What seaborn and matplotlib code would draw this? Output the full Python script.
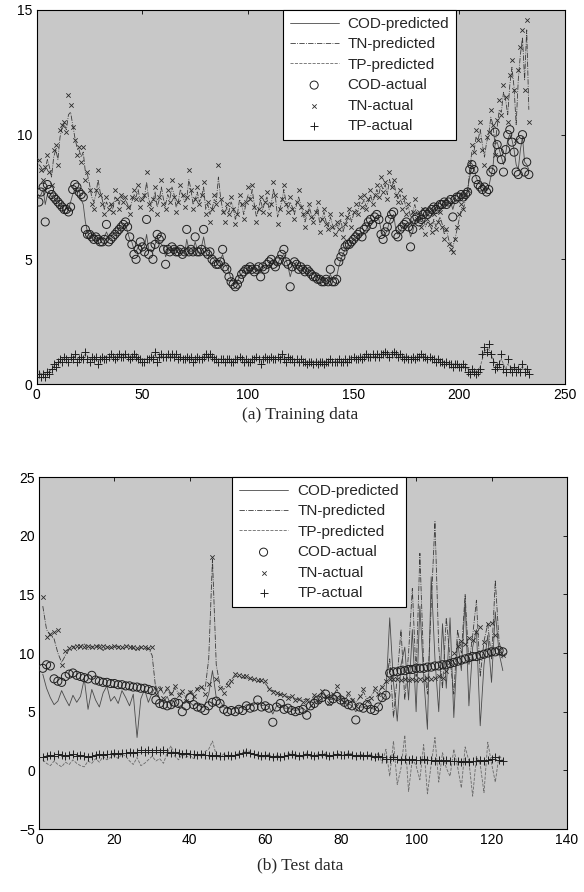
import numpy as np
import pandas as pd
import matplotlib
matplotlib.use("Agg")
import matplotlib.pyplot as plt
import seaborn as sns

# ---------------- Training data (a) ----------------
train_cod_actual = [
    7.3, 7.7, 7.9, 6.5, 8.0, 7.8, 7.6, 7.5, 7.4, 7.3,
    7.2, 7.1, 7.0, 7.0, 6.9, 7.1, 7.8, 8.0, 7.9, 7.7,
    7.6, 7.5, 6.2, 6.0, 6.0, 5.9, 5.8, 5.9, 5.8, 5.7,
    5.7, 5.8, 6.4, 5.7, 5.8, 5.9, 6.0, 6.1, 6.2, 6.3,
    6.4, 6.5, 6.3, 5.9, 5.6, 5.2, 5.0, 5.4, 5.7, 5.5,
    5.3, 6.6, 5.2, 5.5, 5.0, 5.6, 6.0, 5.8, 5.9, 5.4,
    4.8, 5.4, 5.3, 5.5, 5.4, 5.3, 5.3, 5.4, 5.2, 5.3,
    6.2, 5.3, 5.4, 5.3, 5.9, 5.3, 5.3, 5.4, 6.2, 5.3,
    5.2, 5.3, 5.0, 4.9, 4.8, 4.8, 4.9, 5.4, 4.7, 4.6,
    4.3, 4.1, 4.0, 3.9, 4.0, 4.2, 4.4, 4.5, 4.6, 4.6,
    4.7, 4.6, 4.5, 4.6, 4.7, 4.3, 4.7, 4.6, 4.8, 4.9,
    5.0, 4.8, 4.7, 4.9, 5.0, 5.2, 5.4, 4.9, 4.8, 3.9,
    4.7, 4.9, 4.8, 4.6, 4.7, 4.6, 4.5, 4.6, 4.5, 4.4,
    4.3, 4.3, 4.2, 4.2, 4.1, 4.1, 4.2, 4.1, 4.6, 4.1,
    4.1, 4.2, 4.9, 5.1, 5.3, 5.5, 5.6, 5.6, 5.7, 5.8,
    5.9, 6.0, 6.1, 5.9, 6.2, 6.3, 6.5, 6.6, 6.4, 6.7,
    6.8, 6.6, 6.0, 5.8, 6.1, 6.3, 6.6, 6.8, 6.9, 6.0,
    5.9, 6.2, 6.3, 6.4, 6.5, 6.3, 5.5, 6.2, 6.6, 6.7,
    6.5, 6.6, 6.8, 6.9, 6.8, 6.9, 7.0, 7.1, 7.0, 7.1,
    7.2, 7.2, 7.3, 7.2, 7.3, 7.4, 6.7, 7.4, 7.5, 7.5,
    7.6, 7.5, 7.6, 7.7, 8.6, 8.8, 8.6, 8.2, 8.0, 7.9,
    7.8, 7.9, 7.7, 7.8, 8.5, 8.6, 10.1, 9.6, 9.3, 9.0,
    8.5, 9.4, 10.0, 10.2, 9.7, 9.3, 8.5, 8.4, 9.8, 10.0,
    8.5, 8.9, 8.4]

train_cod_pred = [
    7.5, 7.6, 7.8, 7.2, 7.6, 7.7, 7.5, 7.6, 7.3, 7.4,
    7.1, 7.2, 6.9, 7.1, 7.0, 7.3, 7.6, 7.8, 7.7, 7.8,
    7.4, 7.2, 6.5, 6.1, 5.9, 6.0, 5.9, 5.8, 5.9, 5.8,
    5.8, 5.9, 6.1, 5.9, 5.9, 6.0, 6.1, 6.0, 6.3, 6.2,
    6.3, 6.4, 6.1, 5.8, 5.7, 5.4, 5.3, 5.5, 5.6, 5.4,
    5.5, 6.0, 5.4, 5.4, 5.3, 5.6, 5.8, 5.7, 5.6, 5.5,
    5.1, 5.3, 5.4, 5.4, 5.5, 5.3, 5.4, 5.3, 5.3, 5.2,
    5.8, 5.4, 5.3, 5.4, 5.7, 5.4, 5.2, 5.5, 5.9, 5.4,
    5.3, 5.2, 5.1, 5.0, 4.9, 4.9, 5.0, 5.2, 4.8, 4.7,
    4.5, 4.2, 4.1, 4.0, 4.1, 4.3, 4.4, 4.6, 4.5, 4.7,
    4.6, 4.7, 4.6, 4.5, 4.6, 4.5, 4.6, 4.7, 4.7, 4.8,
    4.9, 4.9, 4.8, 4.8, 5.0, 5.1, 5.2, 5.0, 4.7, 4.3,
    4.6, 4.8, 4.9, 4.7, 4.6, 4.7, 4.6, 4.5, 4.6, 4.5,
    4.4, 4.3, 4.3, 4.2, 4.2, 4.2, 4.1, 4.2, 4.4, 4.2,
    4.2, 4.3, 4.7, 5.0, 5.2, 5.4, 5.5, 5.7, 5.6, 5.8,
    5.8, 6.0, 6.0, 6.0, 6.1, 6.2, 6.4, 6.5, 6.5, 6.6,
    6.7, 6.6, 6.2, 6.0, 6.0, 6.2, 6.5, 6.7, 6.8, 6.2,
    6.0, 6.1, 6.3, 6.3, 6.4, 6.3, 5.9, 6.1, 6.5, 6.6,
    6.6, 6.6, 6.7, 6.8, 6.9, 6.9, 6.9, 7.0, 7.1, 7.0,
    7.1, 7.2, 7.2, 7.3, 7.2, 7.3, 7.0, 7.3, 7.4, 7.5,
    7.5, 7.6, 7.5, 7.8, 8.3, 8.7, 8.7, 8.3, 8.1, 8.0,
    7.9, 7.8, 7.8, 7.9, 8.3, 8.7, 9.6, 9.7, 9.4, 9.1,
    8.8, 9.2, 9.8, 10.0, 9.8, 9.4, 8.8, 8.6, 9.4, 9.9,
    8.9, 8.8, 8.6]

train_tn_actual = [
    9.0, 8.6, 8.2, 8.7, 9.2, 8.5, 8.0, 9.4, 9.6, 8.8,
    10.2, 10.4, 10.5, 10.1, 11.6, 11.2, 10.3, 9.8, 9.2, 9.5,
    8.9, 9.5, 8.2, 8.5, 7.8, 7.2, 7.0, 7.8, 8.6, 7.6,
    7.2, 6.8, 7.5, 7.0, 7.2, 6.9, 7.8, 7.4, 7.0, 7.6,
    7.3, 7.5, 7.1, 6.8, 7.5, 7.8, 7.4, 8.0, 7.1, 7.4,
    7.6, 8.5, 7.2, 7.0, 7.4, 7.9, 6.8, 7.5, 8.2, 7.2,
    7.0, 7.8, 7.3, 8.2, 7.5, 6.9, 7.3, 8.0, 7.6, 7.1,
    7.5, 8.6, 7.8, 7.0, 7.4, 7.9, 7.2, 7.6, 8.1, 6.8,
    7.3, 6.5, 7.0, 7.6, 7.2, 8.8, 7.4, 6.9, 6.5, 7.2,
    6.8, 7.5, 7.0, 6.4, 6.8, 7.6, 7.2, 6.6, 7.3, 7.9,
    7.4, 8.0, 7.1, 6.5, 7.0, 7.5, 6.9, 7.3, 7.7, 6.8,
    7.2, 8.1, 7.6, 6.4, 7.0, 7.4, 8.0, 7.2, 6.9, 7.5,
    7.0, 6.6, 7.3, 7.8, 7.1, 6.8, 6.3, 6.9, 7.2, 6.7,
    6.5, 6.9, 7.3, 6.1, 6.6, 7.0, 6.4, 6.2, 6.8, 6.3,
    6.0, 6.5, 6.2, 6.8, 5.9, 6.4, 6.7, 7.0, 6.3, 6.9,
    7.2, 6.8, 7.5, 7.1, 7.6, 7.0, 7.4, 7.8, 7.2, 7.6,
    8.0, 7.5, 8.3, 7.7, 8.1, 7.4, 8.5, 7.9, 8.2, 7.6,
    7.3, 7.8, 7.0, 7.5, 6.8, 7.2, 6.5, 6.9, 7.4, 6.6,
    6.9, 6.3, 7.0, 6.0, 6.6, 6.4, 6.1, 6.8, 6.2, 6.5,
    6.9, 6.3, 5.8, 6.2, 5.6, 5.4, 5.3, 5.8, 6.3, 6.8,
    7.2, 7.0, 7.6, 7.8, 8.9, 9.6, 9.3, 10.2, 9.8, 10.5,
    9.4, 8.8, 9.9, 10.1, 11.0, 10.4, 9.2, 10.6, 11.4, 10.8,
    12.0, 11.5, 10.5, 12.4, 13.0, 11.8, 9.8, 12.6, 13.5, 14.2,
    11.8, 14.6, 10.5]

train_tn_pred = [
    8.8, 8.7, 8.5, 8.6, 9.0, 8.7, 8.3, 9.1, 9.4, 9.0,
    9.9, 10.3, 10.4, 10.2, 10.8, 10.9, 10.4, 9.9, 9.5, 9.4,
    9.1, 9.3, 8.5, 8.4, 8.0, 7.5, 7.3, 7.6, 8.2, 7.7,
    7.4, 7.0, 7.3, 7.1, 7.2, 7.0, 7.5, 7.4, 7.2, 7.5,
    7.4, 7.4, 7.2, 7.0, 7.3, 7.6, 7.5, 7.8, 7.3, 7.4,
    7.5, 8.1, 7.4, 7.2, 7.3, 7.7, 7.1, 7.4, 7.9, 7.4,
    7.2, 7.6, 7.4, 7.9, 7.6, 7.1, 7.3, 7.8, 7.6, 7.3,
    7.4, 8.2, 7.8, 7.2, 7.4, 7.7, 7.3, 7.5, 7.9, 7.0,
    7.2, 6.8, 7.0, 7.4, 7.3, 8.3, 7.5, 7.0, 6.8, 7.1,
    6.9, 7.3, 7.1, 6.6, 6.8, 7.4, 7.2, 6.8, 7.2, 7.6,
    7.4, 7.8, 7.2, 6.7, 7.0, 7.4, 7.0, 7.3, 7.5, 7.0,
    7.2, 7.8, 7.5, 6.7, 7.0, 7.3, 7.8, 7.3, 7.0, 7.3,
    7.1, 6.8, 7.2, 7.5, 7.2, 6.9, 6.5, 6.8, 7.1, 6.8,
    6.6, 6.8, 7.1, 6.4, 6.6, 6.9, 6.5, 6.3, 6.7, 6.4,
    6.2, 6.4, 6.3, 6.6, 6.1, 6.4, 6.6, 6.9, 6.5, 6.8,
    7.0, 6.9, 7.3, 7.2, 7.4, 7.1, 7.3, 7.6, 7.3, 7.5,
    7.8, 7.6, 8.0, 7.8, 8.0, 7.6, 8.2, 7.9, 8.1, 7.7,
    7.4, 7.6, 7.2, 7.4, 7.0, 7.1, 6.7, 6.9, 7.2, 6.8,
    6.8, 6.5, 6.8, 6.3, 6.5, 6.4, 6.2, 6.6, 6.3, 6.5,
    6.7, 6.4, 6.0, 6.2, 5.8, 5.6, 5.5, 5.8, 6.2, 6.6,
    7.0, 7.0, 7.4, 7.7, 8.6, 9.3, 9.3, 9.9, 9.8, 10.2,
    9.6, 9.1, 9.7, 10.0, 10.7, 10.4, 9.6, 10.3, 11.0, 10.9,
    11.7, 11.4, 10.8, 12.0, 12.7, 11.9, 10.4, 12.2, 13.2, 13.9,
    12.2, 14.2, 11.0]

train_tp_actual = [
    0.4, 0.3, 0.4, 0.3, 0.5, 0.4, 0.6, 0.8, 0.7, 0.9,
    1.0, 0.9, 1.1, 1.0, 0.9, 1.1, 1.0, 1.2, 0.9, 1.0,
    1.1, 1.0, 1.3, 1.0, 0.9, 1.1, 1.0, 1.1, 0.8, 1.0,
    1.1, 1.0, 1.0, 1.1, 1.2, 1.1, 1.0, 1.1, 1.2, 1.1,
    1.1, 1.2, 1.1, 1.0, 1.1, 1.2, 1.1, 1.0, 1.0, 0.9,
    0.9, 1.0, 1.0, 1.1, 1.0, 1.3, 0.9, 1.1, 1.2, 1.1,
    1.1, 1.2, 1.1, 1.2, 1.1, 1.2, 1.0, 1.1, 1.0, 1.0,
    1.1, 1.0, 1.1, 0.9, 1.0, 1.1, 1.0, 1.0, 1.1, 1.2,
    1.1, 1.2, 1.1, 1.0, 1.0, 0.9, 1.0, 1.0, 0.9, 1.0,
    1.0, 0.9, 0.9, 1.0, 1.0, 1.1, 1.0, 0.9, 1.0, 0.9,
    0.9, 1.0, 1.0, 1.1, 1.0, 0.8, 1.0, 1.1, 1.0, 1.0,
    1.1, 1.0, 1.0, 1.1, 1.0, 1.2, 1.0, 0.9, 1.1, 1.0,
    1.0, 0.9, 1.0, 0.9, 1.0, 0.9, 0.9, 0.8, 0.9, 0.9,
    0.8, 0.9, 0.8, 0.9, 0.9, 0.8, 0.9, 0.9, 1.0, 0.9,
    0.9, 0.9, 1.0, 0.9, 0.9, 1.0, 0.9, 1.0, 1.0, 1.1,
    1.0, 1.0, 1.1, 1.0, 1.1, 1.2, 1.1, 1.1, 1.2, 1.1,
    1.2, 1.1, 1.2, 1.2, 1.3, 1.2, 1.1, 1.2, 1.3, 1.2,
    1.1, 1.2, 1.1, 1.0, 1.1, 1.0, 1.0, 1.1, 1.0, 1.1,
    1.1, 1.2, 1.1, 1.1, 1.0, 1.1, 1.0, 1.0, 0.9, 1.0,
    0.9, 0.9, 0.8, 0.9, 0.8, 0.8, 0.7, 0.8, 0.8, 0.7,
    0.7, 0.8, 0.7, 0.5, 0.4, 0.6, 0.5, 0.4, 0.5, 0.6,
    1.2, 1.5, 1.3, 1.6, 1.2, 0.9, 0.6, 0.7, 0.8, 1.2,
    0.6, 0.5, 1.0, 0.6, 0.5, 0.7, 0.5, 0.6, 0.5, 0.8,
    0.5, 0.6, 0.4]

train_tp_pred = [
    0.5, 0.4, 0.4, 0.4, 0.5, 0.5, 0.6, 0.7, 0.8, 0.9,
    0.9, 1.0, 1.0, 1.0, 1.0, 1.0, 1.1, 1.1, 1.0, 1.0,
    1.0, 1.1, 1.2, 1.1, 1.0, 1.0, 1.0, 1.0, 0.9, 1.0,
    1.0, 1.1, 1.1, 1.1, 1.1, 1.1, 1.1, 1.1, 1.1, 1.1,
    1.2, 1.1, 1.1, 1.1, 1.1, 1.1, 1.1, 1.0, 1.0, 1.0,
    1.0, 1.0, 1.0, 1.0, 1.1, 1.2, 1.0, 1.1, 1.1, 1.1,
    1.1, 1.1, 1.1, 1.1, 1.1, 1.1, 1.1, 1.1, 1.0, 1.0,
    1.0, 1.0, 1.0, 1.0, 1.0, 1.0, 1.0, 1.0, 1.1, 1.1,
    1.1, 1.1, 1.1, 1.0, 1.0, 1.0, 1.0, 1.0, 1.0, 1.0,
    1.0, 0.9, 0.9, 1.0, 1.0, 1.0, 1.0, 1.0, 0.9, 0.9,
    0.9, 1.0, 1.0, 1.0, 1.0, 0.9, 1.0, 1.0, 1.0, 1.0,
    1.0, 1.0, 1.0, 1.0, 1.0, 1.1, 1.0, 1.0, 1.0, 1.0,
    1.0, 1.0, 0.9, 0.9, 0.9, 0.9, 0.9, 0.9, 0.9, 0.9,
    0.9, 0.9, 0.9, 0.9, 0.9, 0.9, 0.9, 0.9, 0.9, 0.9,
    0.9, 0.9, 0.9, 0.9, 0.9, 0.9, 0.9, 1.0, 1.0, 1.0,
    1.0, 1.0, 1.0, 1.1, 1.1, 1.1, 1.1, 1.1, 1.1, 1.1,
    1.1, 1.2, 1.2, 1.2, 1.2, 1.2, 1.2, 1.2, 1.2, 1.2,
    1.2, 1.1, 1.1, 1.1, 1.1, 1.1, 1.0, 1.0, 1.0, 1.1,
    1.1, 1.1, 1.1, 1.1, 1.0, 1.0, 1.0, 1.0, 1.0, 1.0,
    0.9, 0.9, 0.9, 0.9, 0.8, 0.8, 0.8, 0.8, 0.8, 0.7,
    0.7, 0.7, 0.7, 0.6, 0.5, 0.5, 0.5, 0.5, 0.5, 0.7,
    1.0, 1.3, 1.4, 1.4, 1.2, 1.0, 0.8, 0.7, 0.8, 1.0,
    0.8, 0.6, 0.8, 0.7, 0.6, 0.6, 0.6, 0.6, 0.6, 0.7,
    0.6, 0.6, 0.5]

# ---------------- Test data (b) ----------------
test_cod_actual = [
    8.7, 9.0, 8.9, 7.8, 7.6, 7.5, 8.0, 8.2, 8.3, 8.1,
    8.0, 7.9, 7.8, 8.1, 7.7, 7.6, 7.5, 7.5, 7.4, 7.4,
    7.3, 7.3, 7.2, 7.2, 7.1, 7.1, 7.0, 7.0, 6.9, 6.8,
    6.0, 5.7, 5.6, 5.5, 5.6, 5.8, 5.7, 5.0, 5.5, 6.2,
    5.6, 5.4, 5.3, 5.1, 5.5, 5.8, 5.9, 5.7, 5.2, 5.0,
    5.1, 5.0, 5.2, 5.1, 5.5, 5.3, 5.4, 6.0, 5.4, 5.5,
    5.3, 4.1, 5.4, 5.7, 5.2, 5.3, 5.1, 5.0, 5.1, 5.2,
    4.7, 5.5, 5.7, 6.0, 6.2, 6.5, 5.9, 6.1, 6.3, 6.0,
    5.8, 5.6, 5.5, 4.3, 5.4, 5.3, 5.6, 5.2, 5.1, 5.4,
    6.2, 6.4, 8.3, 8.4, 8.4, 8.5, 8.5, 8.6, 8.6, 8.7,
    8.7, 8.7, 8.8, 8.8, 8.9, 8.9, 9.0, 9.0, 9.1, 9.2,
    9.3, 9.4, 9.5, 9.6, 9.7, 9.7, 9.8, 9.9, 10.0, 10.1,
    10.1, 10.2, 10.1]

test_cod_pred = [
    8.2, 7.0, 6.2, 5.6, 5.9, 6.8, 6.1, 5.5, 6.4, 5.8,
    6.3, 7.8, 5.2, 6.9, 6.0, 5.4, 6.6, 7.2, 5.9, 6.3,
    5.7, 6.8, 6.2, 5.5, 6.5, 2.8, 6.1, 6.9, 5.8, 6.6,
    7.2, 6.0, 5.8, 6.3, 5.5, 6.1, 5.4, 5.6, 6.0, 5.8,
    5.5, 5.7, 5.4, 5.6, 6.5, 8.5, 6.2, 5.9, 5.4, 5.3,
    5.2, 5.3, 5.4, 5.3, 5.6, 5.5, 5.6, 5.8, 5.5, 5.6,
    5.4, 4.8, 5.5, 5.6, 5.3, 5.3, 5.2, 5.1, 5.2, 5.3,
    5.0, 5.4, 5.8, 5.9, 6.1, 6.3, 6.0, 6.1, 6.2, 6.0,
    5.8, 5.7, 5.5, 5.0, 5.4, 5.4, 5.5, 5.3, 5.2, 5.5,
    6.0, 6.5, 13.0, 7.5, 4.2, 9.0, 10.5, 6.0, 12.0, 5.0,
    14.0, 8.0, 3.5, 16.5, 9.5, 5.0, 12.5, 7.0, 13.0, 4.5,
    11.0, 8.5, 14.5, 5.5, 10.5, 12.0, 3.8, 9.0, 11.5, 7.5,
    13.5, 10.0, 8.5]

test_tn_actual = [
    14.8, 11.4, 11.6, 11.8, 12.0, 9.0, 10.2, 10.4, 10.5, 10.6,
    10.6, 10.5, 10.6, 10.5, 10.6, 10.5, 10.6, 10.5, 10.5, 10.6,
    10.5, 10.5, 10.6, 10.5, 10.5, 10.4, 10.5, 10.5, 10.4, 10.5,
    6.5, 6.9, 6.2, 7.0, 6.6, 7.2, 6.4, 6.8, 5.9, 6.7,
    6.3, 6.9, 7.1, 6.5, 7.4, 18.2, 7.8, 7.0, 6.6, 7.3,
    7.6, 8.2, 8.1, 8.0, 8.0, 7.9, 7.8, 7.7, 7.7, 7.6,
    6.9, 6.7, 6.6, 6.5, 6.4, 6.2, 6.3, 6.0, 6.1, 5.8,
    6.0, 5.6, 6.4, 5.9, 6.8, 6.3, 5.7, 6.5, 7.2, 6.1,
    5.8, 6.6, 6.0, 5.5, 6.3, 6.9, 5.9, 6.2, 7.0, 6.5,
    7.1, 7.6, 7.8, 7.8, 7.8, 7.7, 7.8, 7.7, 7.8, 7.7,
    7.8, 7.7, 7.9, 7.8, 7.9, 8.0, 7.9, 8.5, 9.2, 10.0,
    10.6, 11.0, 10.8, 11.3, 11.1, 11.8, 12.2, 10.9, 12.5, 12.6,
    11.5, 10.2, 9.8]

test_tn_pred = [
    14.0, 12.0, 11.5, 11.2, 10.0, 9.2, 9.8, 10.3, 10.6, 10.2,
    10.5, 10.8, 10.3, 10.6, 10.4, 10.7, 10.2, 10.6, 10.4, 10.5,
    10.6, 10.3, 10.5, 10.6, 10.4, 10.2, 10.5, 10.3, 10.4, 9.8,
    6.8, 7.2, 6.5, 6.9, 6.4, 7.0, 6.6, 6.5, 6.2, 6.8,
    6.5, 7.0, 7.2, 6.8, 9.5, 18.0, 9.0, 7.2, 6.9, 7.5,
    7.8, 8.0, 8.0, 7.9, 7.8, 7.8, 7.7, 7.6, 7.6, 7.4,
    7.0, 6.8, 6.7, 6.4, 6.5, 6.3, 6.2, 6.1, 6.0, 6.0,
    6.1, 5.9, 6.2, 6.0, 6.5, 6.4, 6.0, 6.4, 6.9, 6.2,
    6.0, 6.4, 6.1, 5.8, 6.2, 6.7, 6.1, 6.3, 6.8, 6.6,
    7.2, 7.5, 9.5, 4.5, 8.0, 12.0, 6.0, 10.0, 15.5, 8.0,
    18.5, 9.0, 6.5, 14.0, 21.2, 10.5, 7.0, 13.0, 9.5, 6.5,
    12.0, 10.0, 15.0, 9.0, 11.5, 14.5, 8.0, 11.0, 12.5, 9.5,
    16.2, 11.0, 9.5]

test_tp_actual = [
    1.1, 1.2, 1.3, 1.2, 1.4, 1.3, 1.2, 1.3, 1.4, 1.2,
    1.3, 1.2, 1.1, 1.2, 1.3, 1.4, 1.3, 1.4, 1.4, 1.5,
    1.4, 1.5, 1.5, 1.6, 1.5, 1.6, 1.7, 1.6, 1.7, 1.6,
    1.7, 1.6, 1.7, 1.6, 1.5, 1.6, 1.5, 1.4, 1.5, 1.4,
    1.4, 1.3, 1.4, 1.3, 1.3, 1.2, 1.3, 1.2, 1.2, 1.3,
    1.2, 1.3, 1.4, 1.5, 1.6, 1.5, 1.4, 1.3, 1.2, 1.3,
    1.2, 1.1, 1.2, 1.1, 1.2, 1.3, 1.4, 1.3, 1.2, 1.3,
    1.4, 1.3, 1.2, 1.3, 1.4, 1.3, 1.2, 1.3, 1.4, 1.3,
    1.3, 1.4, 1.3, 1.2, 1.3, 1.2, 1.3, 1.2, 1.1, 1.2,
    1.1, 1.0, 1.0, 1.1, 1.0, 0.9, 1.0, 0.9, 1.0, 0.9,
    0.9, 1.0, 0.9, 0.9, 0.8, 0.9, 0.8, 0.9, 0.8, 0.8,
    0.8, 0.7, 0.8, 0.7, 0.8, 0.8, 0.9, 0.8, 0.9, 1.0,
    1.1, 0.9, 0.8]

test_tp_pred = [
    0.9, 0.6, 0.4, 0.8, 0.5, 0.3, 0.7, 0.5, 0.9, 0.6,
    0.4, 0.3, 0.8, 0.6, 1.0, 0.7, 1.2, 0.9, 1.1, 1.3,
    1.0, 1.4, 1.2, 0.8, 0.5, 1.1, 0.4, 0.6, 0.9, 1.2,
    0.8, 1.0, 0.6, 1.5, 2.1, 1.2, 0.9, 1.4, 1.1, 1.3,
    1.0, 1.4, 1.2, 1.6, 1.8, 2.5, 1.3, 1.1, 1.4, 1.2,
    1.3, 1.2, 1.5, 1.4, 1.7, 1.6, 1.3, 1.4, 1.1, 1.2,
    1.4, 1.0, 1.3, 1.2, 1.1, 1.4, 1.5, 1.2, 1.3, 1.1,
    1.5, 1.2, 1.3, 1.4, 1.2, 1.5, 1.1, 1.4, 1.3, 1.6,
    1.2, 1.5, 1.4, 1.1, 1.4, 1.3, 1.2, 1.4, 1.0, 1.5,
    0.6, 1.8, -0.5, 2.5, -1.2, 0.2, 3.0, -1.8, 1.0, 0.4,
    -0.8, 2.2, -2.0, 0.5, 2.8, -1.0, 1.5, 0.2, -0.5, 1.8,
    0.3, -1.5, 2.0, 0.8, -2.2, 1.2, 0.5, -1.9, 2.4, 0.6,
    -1.0, 1.3, 0.8]

legend_labels = ["COD-predicted", "TN-predicted", "TP-predicted",
                 "COD-actual", "TN-actual", "TP-actual"]
captions = ["(a) Training data", "(b) Test data"]

sns.set_theme(style="white")
plt.rcParams['font.family'] = ['Liberation Sans', 'DejaVu Sans']

fig = plt.figure(figsize=(5.84, 8.92), dpi=100)
ax1 = fig.add_axes([0.063, 0.5695, 0.904, 0.4193])
ax2 = fig.add_axes([0.0668, 0.0706, 0.904, 0.3946])

BG = "#c8c8c8"


def draw(ax, cod_a, cod_p, tn_a, tn_p, tp_a, tp_p, xlim, ylim, yticks, xticks, leg_x):
    n = len(cod_a)
    df = pd.DataFrame({
        "idx": np.arange(1, n + 1),
        "cod_a": cod_a, "cod_p": cod_p,
        "tn_a": tn_a, "tn_p": tn_p,
        "tp_a": tp_a, "tp_p": tp_p,
    })
    ax.set_facecolor(BG)
    sns.lineplot(data=df, x="idx", y="cod_p", ax=ax, color="#4a4a4a", lw=0.6,
                 linestyle="-", label=legend_labels[0])
    sns.lineplot(data=df, x="idx", y="tn_p", ax=ax, color="#3a3a3a", lw=0.6,
                 linestyle="-.", label=legend_labels[1])
    sns.lineplot(data=df, x="idx", y="tp_p", ax=ax, color="#6a6a6a", lw=0.6,
                 linestyle="--", label=legend_labels[2])
    sns.scatterplot(data=df, x="idx", y="cod_a", ax=ax, marker="o", s=34,
                    facecolor="none", edgecolor="#1e1e1e", linewidth=0.7,
                    label=legend_labels[3], zorder=3)
    sns.scatterplot(data=df, x="idx", y="tn_a", ax=ax, marker="x", s=10,
                    color="#2a2a2a", linewidth=0.6, label=legend_labels[4], zorder=3)
    sns.scatterplot(data=df, x="idx", y="tp_a", ax=ax, marker="+", s=28,
                    color="#1e1e1e", linewidth=0.7, label=legend_labels[5], zorder=3)
    ax.set_xlim(*xlim)
    ax.set_ylim(*ylim)
    ax.set_xticks(xticks)
    ax.set_yticks(yticks)
    ax.set_xlabel("")
    ax.set_ylabel("")
    ax.tick_params(direction="in", length=3, width=0.6, labelsize=10,
                   top=True, right=True, colors="black", pad=3)
    for sp in ax.spines.values():
        sp.set_color("black")
        sp.set_linewidth(0.8)
    leg = ax.legend(loc="upper left", bbox_to_anchor=(leg_x, 1.0), fontsize=11,
                    frameon=True, fancybox=False, framealpha=1, edgecolor="black",
                    borderpad=0.45, labelspacing=0.42, handlelength=3.2,
                    handletextpad=0.6, borderaxespad=0.0)
    leg.get_frame().set_linewidth(0.8)
    leg.set_zorder(10)


draw(ax1, train_cod_actual, train_cod_pred, train_tn_actual, train_tn_pred,
     train_tp_actual, train_tp_pred, (0, 250), (0, 15), [0, 5, 10, 15],
     [0, 50, 100, 150, 200, 250], 0.466)
draw(ax2, test_cod_actual, test_cod_pred, test_tn_actual, test_tn_pred,
     test_tp_actual, test_tp_pred, (0, 140), (-5, 25), [-5, 0, 5, 10, 15, 20, 25],
     [0, 20, 40, 60, 80, 100, 120, 140], 0.366)

fig.text(0.514, 0.535, captions[0], ha="center", va="center", fontsize=12.5,
         family=["Liberation Serif", "DejaVu Serif"])
fig.text(0.514, 0.030, captions[1], ha="center", va="center", fontsize=12.5,
         family=["Liberation Serif", "DejaVu Serif"])

fig.savefig("out.png", dpi=100, facecolor="white")
